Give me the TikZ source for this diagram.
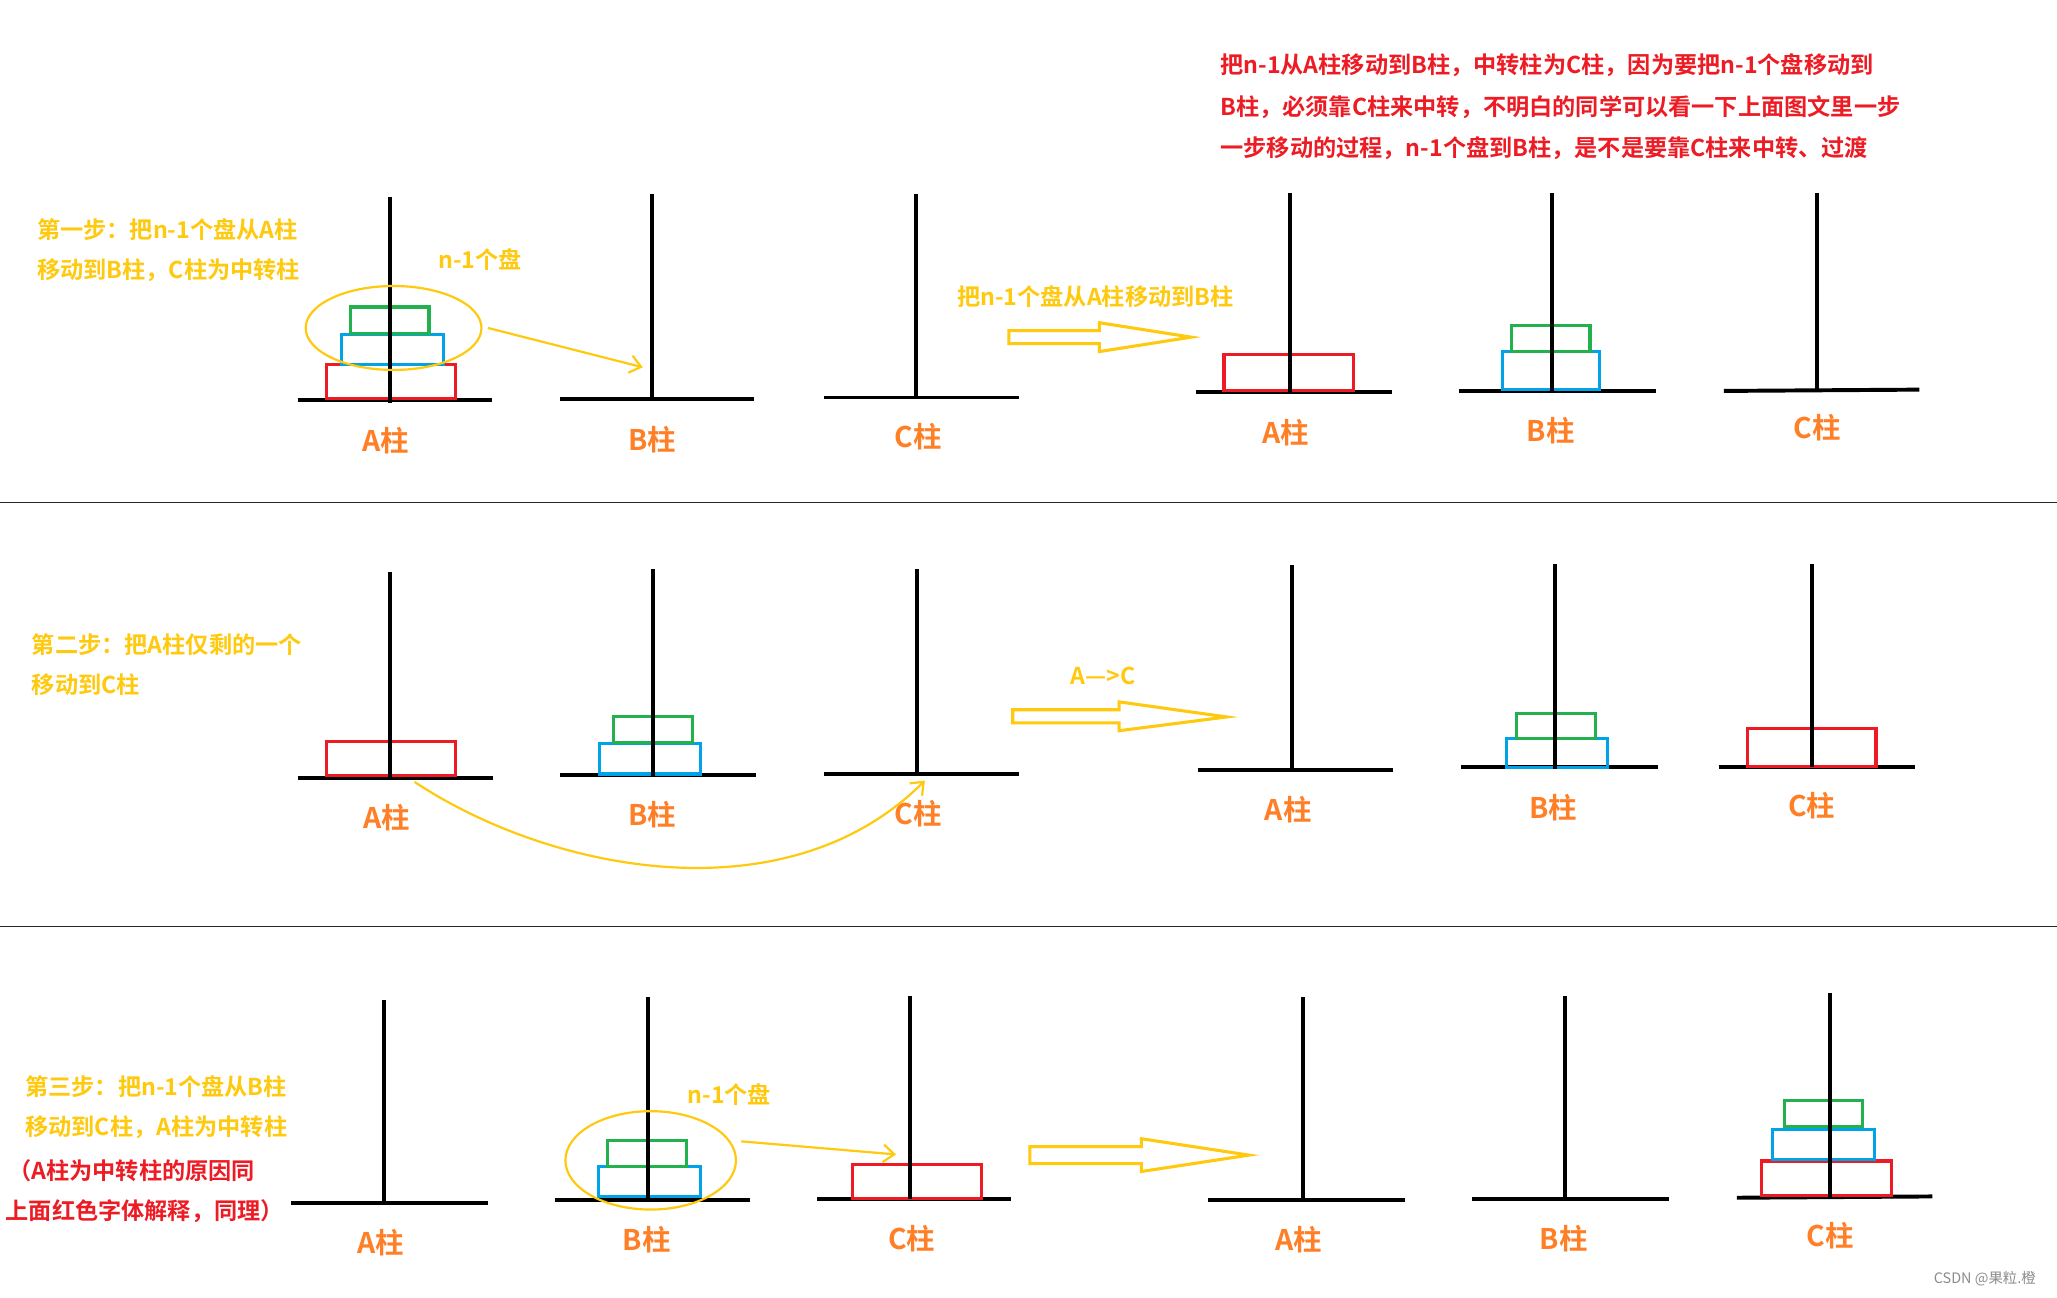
\documentclass[tikz,border=0pt]{standalone}
\usepackage{fontspec}
\setmainfont{Noto Sans CJK SC}[BoldFont={Noto Sans CJK SC Bold}]
\usetikzlibrary{arrows.meta}
\definecolor{gold}{HTML}{FFC90E}
\definecolor{lblc}{HTML}{FF7F27}
\definecolor{dred}{HTML}{ED1C24}
\definecolor{dgreen}{HTML}{22B14C}
\definecolor{dblue}{HTML}{00A2E8}
\tikzset{
  pole/.style={line width=1.8pt, black},
  basel/.style={line width=1.8pt, black},
  diskr/.style={draw=dred, line width=1.4pt},
  diskg/.style={draw=dgreen, line width=1.4pt},
  diskb/.style={draw=dblue, line width=1.4pt},
  steptxt/.style={text=gold, font=\bfseries\fontsize{10.6}{13}\selectfont, anchor=west, inner sep=0pt},
  redtxt/.style={text=dred, font=\bfseries\fontsize{10.6}{13}\selectfont, anchor=west, inner sep=0pt},
  goldtxt/.style={text=gold, font=\bfseries\fontsize{10.6}{13}\selectfont, inner sep=0pt},
  lbl/.style={text=lblc, font=\bfseries\fontsize{13}{15}\selectfont, inner sep=0pt},
  ring/.style={draw=gold, line width=1pt},
  thinarr/.style={draw=gold, line width=1pt, -{Straight Barb[length=5pt,width=8pt]}},
  hollow/.style={draw=gold, line width=1.4pt, line join=miter},
  divider/.style={line width=0.6pt, black!85}
}
\begin{document}
\begin{tikzpicture}[x=0.6pt,y=-0.6pt]
\useasboundingbox (0,0) rectangle (1568,989);
\fill[white] (0,0) rectangle (1568,989);

% dividers
\draw[divider] (0,383) -- (1568,383);
\draw[divider] (0,706) -- (1568,706);

% ===== Row 1 =====
\node[steptxt] (s1a) at (28,175) {第一步：把n-1个盘从A柱};
\node[steptxt] (s1b) at (28,206) {移动到B柱，C柱为中转柱};

% A1
\draw[basel] (227,305) -- (375,305);
\draw[diskr] (249,278) rectangle (347,304);
\draw[diskb] (260,255) rectangle (338,278);
\draw[diskg] (267,234) rectangle (327,254);
\draw[pole] (297,150) -- (297,307);
\draw[ring] (300,250) ellipse [x radius=67, y radius=32];
\node[goldtxt] (n1) at (366,198) {n-1个盘};
\coordinate (e1s) at (372,250);
\coordinate (e1e) at (490,280);
\draw[thinarr] (e1s) -- (e1e);
% B1
\draw[basel] (427,304) -- (575,304);
\draw[pole] (497,148) -- (497,305);
% C1
\draw[basel] (628,303) -- (777,303);
\draw[pole] (698,148) -- (698,303);
\node[lbl] (la1) at (294,336) {A柱};
\node[lbl] (lb1) at (497,335) {B柱};
\node[lbl] (lc1) at (700,333) {C柱};

\node[goldtxt] (t1) at (835,226) {把n-1个盘从A柱移动到B柱};
\draw[hollow] (769,252) -- (838,252) -- (838,246) -- (908,257) -- (838,268) -- (838,262) -- (769,262) -- cycle;

\node[redtxt] (r1) at (930,50) {把n-1从A柱移动到B柱，中转柱为C柱，因为要把n-1个盘移动到};
\node[redtxt] (r2) at (930,82) {B柱，必须靠C柱来中转，不明白的同学可以看一下上面图文里一步};
\node[redtxt] (r3) at (930,113) {一步移动的过程，n-1个盘到B柱，是不是要靠C柱来中转、过渡};

% A1'
\draw[basel] (912,299) -- (1061,299);
\draw[diskr] (933,270) rectangle (1032,298);
\draw[pole] (983,147) -- (983,300);
% B1'
\draw[basel] (1112,298) -- (1262,298);
\draw[diskb] (1145,268) rectangle (1219,297);
\draw[diskg] (1152,248) rectangle (1212,268);
\draw[pole] (1183,147) -- (1183,298);
% C1'
\draw[basel] (1314,298) -- (1463,297);
\draw[pole] (1385,147) -- (1385,298);
\node[lbl] (la1p) at (980,330) {A柱};
\node[lbl] (lb1p) at (1182,328) {B柱};
\node[lbl] (lc1p) at (1385,326) {C柱};

% ===== Row 2 =====
\node[steptxt] (s2a) at (24,491) {第二步：把A柱仅剩的一个};
\node[steptxt] (s2b) at (24,522) {移动到C柱};

\draw[basel] (227,593) -- (376,593);
\draw[diskr] (249,565) rectangle (347,591);
\draw[pole] (297,436) -- (297,594);

\draw[basel] (427,591) -- (576,591);
\draw[diskb] (457,567) rectangle (534,590);
\draw[diskg] (468,546) rectangle (528,566);
\draw[pole] (498,434) -- (498,592);

\draw[basel] (628,590) -- (777,590);
\draw[pole] (699,434) -- (699,590);

\node[lbl] (la2) at (295,623) {A柱};
\node[lbl] (lb2) at (497,621) {B柱};
\node[lbl] (lc2) at (700,620) {C柱};

\coordinate (c2s) at (316,596);
\coordinate (c2e) at (705,595);
\draw[thinarr] (c2s) .. controls (420,665) and (600,700) .. (c2e);

\node[goldtxt] (t2) at (841,515) {A—>C};
\draw[hollow] (772,541) -- (853,541) -- (853,535) -- (935,546.5) -- (853,557) -- (853,551) -- (772,551) -- cycle;

\draw[basel] (913,587) -- (1062,587);
\draw[pole] (985,431) -- (985,588);

\draw[basel] (1114,585) -- (1264,585);
\draw[diskb] (1148,563) rectangle (1225,585);
\draw[diskg] (1156,544) rectangle (1216,563);
\draw[pole] (1185,430) -- (1185,586);

\draw[basel] (1310,585) -- (1460,585);
\draw[diskr] (1332,555) rectangle (1430,584);
\draw[pole] (1381,430) -- (1381,585);

\node[lbl] (la2p) at (982,617) {A柱};
\node[lbl] (lb2p) at (1184,616) {B柱};
\node[lbl] (lc2p) at (1381,614) {C柱};

% ===== Row 3 =====
\node[steptxt] (s3a) at (19,828) {第三步：把n-1个盘从B柱};
\node[steptxt] (s3b) at (19,859) {移动到C柱，A柱为中转柱};
\node[redtxt] (s3c) at (6,892) {（A柱为中转柱的原因同};
\node[redtxt] (s3d) at (4,923) {上面红色字体解释，同理）};

\draw[basel] (222,917) -- (372,917);
\draw[pole] (293,762) -- (293,918);

\draw[basel] (423,915) -- (572,915);
\draw[diskb] (456,889.5) rectangle (534,912);
\draw[diskg] (463,869) rectangle (523,889);
\draw[pole] (494,760) -- (494,916);
\draw[ring] (496,884.5) ellipse [x radius=65, y radius=37.5];
\node[goldtxt] (n3) at (556,834) {n-1个盘};
\coordinate (e3s) at (565,870);
\coordinate (e3e) at (683,880);
\draw[thinarr] (e3s) -- (e3e);

\draw[basel] (623,914) -- (771,914);
\draw[diskr] (650,888) rectangle (748,913.5);
\draw[pole] (694,759) -- (694,914);

\node[lbl] (la3) at (290,947) {A柱};
\node[lbl] (lb3) at (493,945) {B柱};
\node[lbl] (lc3) at (695,944) {C柱};

\draw[hollow] (785,874) -- (870,874) -- (870,868) -- (952,880.5) -- (870,893) -- (870,887) -- (785,887) -- cycle;

\draw[basel] (921,915) -- (1071,915);
\draw[pole] (993,760) -- (993,916);

\draw[basel] (1122,914) -- (1272,914);
\draw[pole] (1193,759) -- (1193,914);

\draw[basel] (1324,913) -- (1473,912);
\draw[diskr] (1343,885) rectangle (1442,911);
\draw[diskb] (1351,861) rectangle (1429,884);
\draw[diskg] (1360,839) rectangle (1420,859);
\draw[pole] (1395,757) -- (1395,913);

\node[lbl] (la3p) at (990,945) {A柱};
\node[lbl] (lb3p) at (1192,944) {B柱};
\node[lbl] (lc3p) at (1395,942) {C柱};

\node[text=black!45, font=\fontsize{6.6}{8}\selectfont, inner sep=0pt] (wm) at (1513,975) {CSDN @果粒.橙};
\end{tikzpicture}
\end{document}
